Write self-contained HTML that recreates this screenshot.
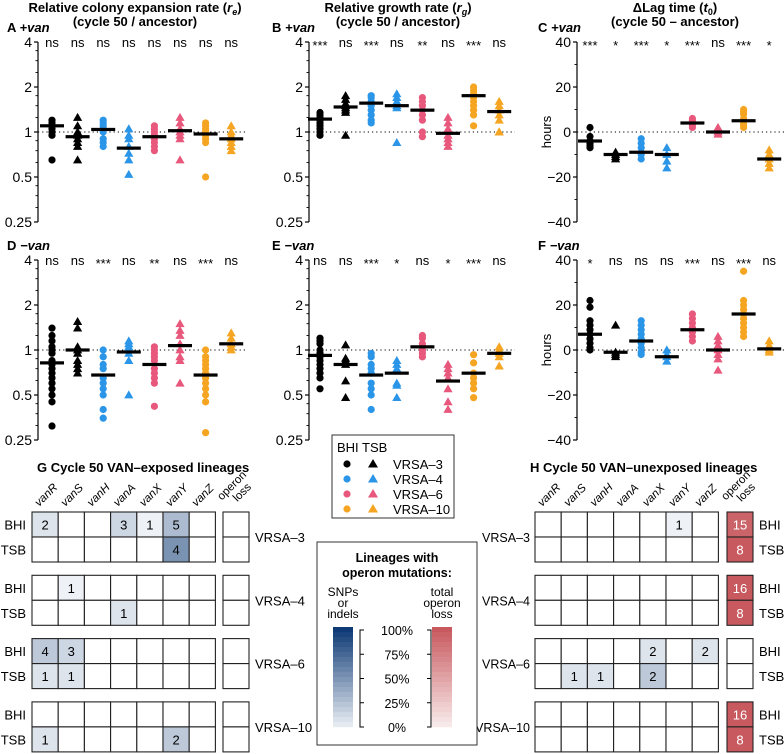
<!DOCTYPE html>
<html><head><meta charset="utf-8">
<style>
html,body{margin:0;padding:0;background:#fff;}
svg{display:block;font-family:"Liberation Sans",sans-serif;}
</style></head>
<body>
<svg id="fig" width="784" height="754" viewBox="0 0 784 754" xmlns="http://www.w3.org/2000/svg"></svg>
<script>
// ---------- data ----------
const groups = ["VRSA-3 BHI","VRSA-3 TSB","VRSA-4 BHI","VRSA-4 TSB","VRSA-6 BHI","VRSA-6 TSB","VRSA-10 BHI","VRSA-10 TSB"];
const aVals = [[1.05,1.1,1.15,1.2,1.0,0.95,0.65],[1.25,1.1,1.0,0.95,0.9,0.85,0.8,0.65],[1.2,1.15,1.1,1.05,1.0,0.9,0.85,0.8],[1.05,0.95,0.9,0.8,0.72,0.65,0.52],[1.1,1.05,1.0,0.95,0.9,0.85,0.8,0.75],[1.25,1.15,1.05,1.0,0.95,0.9,0.65],[1.15,1.1,1.05,1.0,0.95,0.9,0.85,0.5],[1.1,1.0,0.95,0.9,0.85,0.8,0.75]];
const aMed = [1.1,0.93,1.04,0.78,0.93,1.02,0.97,0.9];
const aSig = ["ns","ns","ns","ns","ns","ns","ns","ns"];
const bVals = [[1.35,1.3,1.25,1.2,1.15,1.1,1.05,1.0,0.95],[1.75,1.65,1.55,1.5,1.45,1.4,1.35,0.95],[1.75,1.7,1.6,1.5,1.4,1.3,1.2,1.15],[1.8,1.7,1.6,1.5,1.45,0.85],[1.7,1.6,1.5,1.4,1.3,1.2,1.0,0.93],[1.25,1.15,1.05,0.95,0.9,0.85,0.8],[2.0,1.9,1.8,1.7,1.6,1.5,1.4,1.3,1.1],[1.6,1.5,1.4,1.3,1.2,1.0,1.0]];
const bMed = [1.22,1.47,1.56,1.5,1.4,0.98,1.75,1.37];
const bSig = ["***","ns","***","ns","**","ns","***","ns"];
const cVals = [[2,-2,-4,-5,-6,-7],[-9,-10,-11,-12],[-3,-5,-7,-9,-10,-12],[-7,-10,-13,-16],[6,5,4,3,2],[2,1,0,-1],[10,9,8,6,4,3,2],[-8,-10,-12,-14,-16]];
const cMed = [-4,-10,-9,-10,4,0,5,-12];
const cSig = ["***","*","***","*","***","ns","***","*"];
const dVals = [[1.4,1.25,1.15,1.05,1.0,0.95,0.85,0.8,0.75,0.7,0.65,0.6,0.55,0.5,0.45,0.31],[1.55,1.4,1.05,1.0,0.95,0.85,0.8,0.75,0.7],[1.0,0.9,0.8,0.75,0.65,0.6,0.55,0.5,0.4,0.35],[1.15,1.1,1.05,1.0,0.95,0.85,0.5],[1.05,1.0,0.95,0.9,0.85,0.75,0.7,0.65,0.6,0.42],[1.5,1.35,1.25,1.1,1.0,0.9,0.85,0.6],[1.0,0.9,0.85,0.8,0.75,0.7,0.65,0.6,0.55,0.5,0.45,0.28],[1.3,1.2,1.1,1.05,1.0]];
const dMed = [0.82,1.0,0.68,0.97,0.8,1.07,0.68,1.1];
const dSig = ["ns","ns","***","ns","**","ns","***","ns"];
const eVals = [[1.2,1.15,1.1,1.0,0.95,0.9,0.85,0.8,0.75,0.7,0.65,0.55],[1.08,0.88,0.85,0.8,0.62,0.48],[0.95,0.9,0.8,0.75,0.7,0.6,0.55,0.5,0.4],[0.85,0.8,0.75,0.6,0.58,0.48],[1.25,1.2,1.1,1.05,1.0,0.95,0.9],[0.8,0.75,0.7,0.65,0.55,0.45,0.4],[0.93,0.82,0.7,0.65,0.6,0.55,0.48],[1.05,1.0,0.95,0.9,0.78]];
const eMed = [0.92,0.8,0.68,0.7,1.05,0.62,0.7,0.95];
const eSig = ["ns","ns","***","*","ns","*","***","ns"];
const fVals = [[22,19,13,11,9,7,5,3,1,0],[11,-1,-2,-3],[13,11,9,7,5,3,1,-1,-2],[0,-2,-3,-5],[16,14,12,10,8,6,4],[6,4,2,0,-2,-4,-9],[35,22,20,18,16,14,12,10,8,6],[4,2,1,0,-1]];
const fMed = [7,-1,4,-3,9,0,16,0.5];
const fSig = ["*","ns","ns","ns","***","ns","***","ns"];
const logTicks = [4,2,1,0.5,0.25];
const logTickLabels = ["4","2","1","0.5","0.25"];
const linTicks = [40,20,0,-20,-40];
const linTickLabels = ["40","20","0","\u221220","\u221240"];
const genes = ["vanR","vanS","vanH","vanA","vanX","vanY","vanZ"];
const strains = ["VRSA\u20133","VRSA\u20134","VRSA\u20136","VRSA\u201310"];
// counts: [strain][medium BHI=0,TSB=1][gene]
const gCounts = [[[2,0,0,3,1,5,0],[0,0,0,0,0,4,0]],[[0,1,0,0,0,0,0],[0,0,0,1,0,0,0]],[[4,3,0,0,0,0,0],[1,1,0,0,0,0,0]],[[0,0,0,0,0,0,0],[1,0,0,0,0,2,0]]];
const gLoss = [[0,0],[0,0],[0,0],[0,0]];
const hCounts = [[[0,0,0,0,0,1,0],[0,0,0,0,0,0,0]],[[0,0,0,0,0,0,0],[0,0,0,0,0,0,0]],[[0,0,0,0,2,0,2],[0,1,1,0,2,0,0]],[[0,0,0,0,0,0,0],[0,0,0,0,0,0,0]]];
const hLoss = [[15,8],[16,8],[0,0],[16,8]];
const mediumTotals = [16,8];

// ---------- helpers ----------
const NS="http://www.w3.org/2000/svg";
const svg=document.getElementById('fig');
function el(tag,attrs,parent,text){const e=document.createElementNS(NS,tag);for(const k in attrs)e.setAttribute(k,attrs[k]);if(text!==undefined)e.textContent=text;(parent||svg).appendChild(e);return e;}
const colors=["#000000","#000000","#2b95e8","#2b95e8","#e8577c","#e8577c","#f5a521","#f5a521"];

function panel(opt){
  const g=el('g',{});
  
  
  const ax=opt.ax, top=opt.top, bot=top+180;
  let yScale;
  if(opt.log){yScale=v=>top+(2-Math.log2(v))*45;}
  else{yScale=v=>top+(40-v)*2.25;}
  const axis=el('line',{x1:ax,y1:top,x2:ax,y2:bot,stroke:'#000','stroke-width':1.2},g);
  
  
  const ticks=opt.log?logTicks:linTicks, labs=opt.log?logTickLabels:linTickLabels;
  ticks.forEach((t,i)=>{const y=yScale(t);
    el('line',{x1:ax-4,y1:y,x2:ax,y2:y,stroke:'#000','stroke-width':1.2},g);
    const tl=el('text',{x:ax-6,y:y+5,'text-anchor':'end','font-size':14},g,labs[i]);
    
    
  });
  if(opt.log){[0.25,0.5,1,2].forEach(b=>{[1.25,1.5,1.75].forEach(m=>{const y=yScale(b*m);el('line',{x1:ax-2.5,y1:y,x2:ax,y2:y,stroke:'#000','stroke-width':0.9},g);});});}
  else{[30,10,-10,-30].forEach(t=>{const y=yScale(t);el('line',{x1:ax-2.5,y1:y,x2:ax,y2:y,stroke:'#000','stroke-width':0.9},g);});}
  const ry=yScale(opt.log?1:0);
  const ref=el('line',{x1:ax,y1:ry,x2:opt.refEnd,y2:ry,stroke:'#000','stroke-width':1,'stroke-dasharray':'1.2,3'},g);
  
  
  if(!opt.log){const h=el('text',{x:0,y:0,'text-anchor':'middle','font-size':13,transform:`translate(${ax-26},${ry}) rotate(-90)`},g,'hours');
    }
  const pl=el('text',{x:opt.lx,y:top-10,'font-size':13,'font-weight':'bold'},g);
  
  el('tspan',{},pl,opt.letter+'  ');el('tspan',{'font-style':'italic'},pl,opt.cond);
  groups.forEach((gname,i)=>{
    const x=opt.x0+i*25.6;
    opt.vals[i].forEach(v=>{
      const y=yScale(v);
      let m;
      if(i%2===0){m=el('circle',{cx:x,cy:y,r:3.6,fill:colors[i]},g);}
      else{m=el('path',{d:`M${x},${y-4.6}L${x+4.6},${y+3.4}L${x-4.6},${y+3.4}Z`,fill:colors[i]},g);}
      
      
    });
    const my=yScale(opt.med[i]);
    const mb=el('rect',{x:x-12,y:my-1.6,width:24,height:3.2,fill:'#000'},g);
    
    
    const s=opt.sig[i];
    const st=el('text',{x:x,y:s==='ns'?top+5:top+8,'text-anchor':'middle','font-size':13},g,s);
    
    
  });
}
function title(x,l1,l2,name){
  const t=el('text',{x:x,y:12,'text-anchor':'middle','font-size':13,'font-weight':'bold'});
  
  l1.forEach(p=>{el('tspan',p.a||{},t,p.t);});
  const t2=el('text',{x:x,y:26,'text-anchor':'middle','font-size':13,'font-weight':'bold'},svg,l2);
  
}
title(135,[{t:'Relative colony expansion rate ('},{t:'r',a:{'font-style':'italic'}},{t:'e',a:{'font-style':'italic','font-size':9,dy:3}},{t:')',a:{dy:-3}}],'(cycle 50 / ancestor)','title-expansion');
title(398,[{t:'Relative growth rate ('},{t:'r',a:{'font-style':'italic'}},{t:'g',a:{'font-style':'italic','font-size':9,dy:3}},{t:')',a:{dy:-3}}],'(cycle 50 / ancestor)','title-growth');
title(675,[{t:'\u0394Lag time ('},{t:'t',a:{'font-style':'italic'}},{t:'0',a:{'font-size':9,dy:3}},{t:')',a:{dy:-3}}],'(cycle 50 \u2013 ancestor)','title-lag');

panel({name:'panel-a',letter:'A',cond:'+van',ax:38,top:42,log:true,x0:52,refEnd:246,lx:7,vals:aVals,med:aMed,sig:aSig});
panel({name:'panel-b',letter:'B',cond:'+van',ax:309,top:42,log:true,x0:320,refEnd:515,lx:272,vals:bVals,med:bMed,sig:bSig});
panel({name:'panel-c',letter:'C',cond:'+van',ax:577,top:42,log:false,x0:590,refEnd:784,lx:538,vals:cVals,med:cMed,sig:cSig});
panel({name:'panel-d',letter:'D',cond:'\u2212van',ax:38,top:260,log:true,x0:52,refEnd:246,lx:7,vals:dVals,med:dMed,sig:dSig});
panel({name:'panel-e',letter:'E',cond:'\u2212van',ax:309,top:260,log:true,x0:320,refEnd:515,lx:272,vals:eVals,med:eMed,sig:eSig});
panel({name:'panel-f',letter:'F',cond:'\u2212van',ax:577,top:260,log:false,x0:590,refEnd:784,lx:538,vals:fVals,med:fMed,sig:fSig});

// ---------- heatmaps ----------
function mix(c1,c2,f){return 'rgb('+c1.map((c,i)=>Math.round(c+(c2[i]-c)*f)).join(',')+')';}
const white=[255,255,255], navy=[14,58,117], red=[200,90,95];
function heat(opt){
  const g=el('g',{});
  
  
  const ht=el('text',{x:opt.tx,y:472,'font-size':13,'font-weight':'bold'},g,opt.title);
  
  const cw=26.2, ch=25;
  genes.forEach((gn,j)=>{const x=opt.x0+j*cw+cw/2-6;
    const t=el('text',{x:0,y:0,'font-size':11.5,'font-style':'italic',transform:`translate(${x},${507}) rotate(-45)`},g,gn);
    });
  const ol=el('text',{x:0,y:0,'font-size':11.5,transform:`translate(${opt.ox+3},${505}) rotate(-45)`},g);
  
  el('tspan',{x:0,dy:-6},ol,'operon');el('tspan',{x:10,dy:12},ol,'loss');
  strains.forEach((s,si)=>{
    const top=512+si*63.3;
    [0,1].forEach(m=>{
      const y=top+m*ch;
      genes.forEach((gn,j)=>{
        const n=opt.counts[si][m][j];
        const x=opt.x0+j*cw;
        const r=el('rect',{x:x,y:y,width:cw,height:ch,fill:n?mix(white,navy,Math.min(1,n/mediumTotals[m]*1.1)):'#fff',stroke:'#222','stroke-width':1.1},g);
        
        
        if(n){const t=el('text',{x:x+cw/2,y:y+ch/2+5,'text-anchor':'middle','font-size':13},g,String(n));
          }
      });
      const L=opt.loss[si][m];
      const r=el('rect',{x:opt.ox,y:y,width:26,height:ch,fill:L?mix(white,red,L/mediumTotals[m]):'#fff',stroke:'#222','stroke-width':1.1},g);
      
      
      if(L){const t=el('text',{x:opt.ox+13,y:y+ch/2+5,'text-anchor':'middle','font-size':13,fill:'#fff'},g,String(L));
        }
      const ml=el('text',{x:opt.mx,y:y+ch/2+5,'text-anchor':opt.manchor,'font-size':13},g,m?'TSB':'BHI');
      
    });
    const sl=el('text',{x:opt.sx,y:top+ch+5,'text-anchor':opt.sanchor,'font-size':opt.sfs},g,s);
    
  });
}
heat({name:'heatmap-g',title:'G    Cycle 50 VAN\u2013exposed lineages',tx:37,x0:32,ox:223,counts:gCounts,loss:gLoss,mx:26,manchor:'end',sx:255,sanchor:'start',sfs:13});
heat({name:'heatmap-h',title:'H    Cycle 50 VAN\u2013unexposed lineages',tx:530,x0:535,ox:727,counts:hCounts,loss:hLoss,mx:759,manchor:'start',sx:530,sanchor:'end',sfs:12.5});

// ---------- legends ----------
(function(){
  const g=el('g',{});
  
  
  el('rect',{x:332,y:435,width:122,height:83,fill:'#fff',stroke:'#333','stroke-width':1},g);
  el('text',{x:337,y:452,'font-size':13},g,'BHI');
  el('text',{x:362,y:452,'font-size':13},g,'TSB');
  const lab=["VRSA\u20133","VRSA\u20134","VRSA\u20136","VRSA\u201310"];
  const cl=["#000000","#2b95e8","#e8577c","#f5a521"];
  lab.forEach((l,i)=>{const y=464+i*15;
    const c=el('circle',{cx:347,cy:y,r:3.6,fill:cl[i]},g);
    
    el('path',{d:`M373,${y-5}L378,${y+3.5}L368,${y+3.5}Z`,fill:cl[i]},g);
    el('text',{x:393,y:y+5,'font-size':13},g,l);
  });
})();
(function(){
  const g=el('g',{});
  
  
  el('rect',{x:317,y:542,width:160,height:203,fill:'#fff',stroke:'#333','stroke-width':1},g);
  el('text',{x:397,y:562,'text-anchor':'middle','font-size':12.5,'font-weight':'bold'},g,'Lineages with');
  el('text',{x:397,y:577,'text-anchor':'middle','font-size':12.5,'font-weight':'bold'},g,'operon mutations:');
  ['SNPs','or','indels'].forEach((t,i)=>el('text',{x:343,y:596+i*11,'text-anchor':'middle','font-size':12},g,t));
  ['total','operon','loss'].forEach((t,i)=>el('text',{x:442,y:596+i*11,'text-anchor':'middle','font-size':12},g,t));
  for(let k=0;k<20;k++){const f=(20-k)/20;
    el('rect',{x:333,y:627+k*5,width:20,height:5.2,fill:mix([240,243,247],navy,f)},g);
    el('rect',{x:432,y:627+k*5,width:20,height:5.2,fill:mix([250,240,240],red,f)},g);}
  el('path',{d:'M364,630H360V727H364',fill:'none',stroke:'#000'},g);
  el('path',{d:'M427,630H431V727H427',fill:'none',stroke:'#000'},g);
  ['100%','75%','50%','25%','0%'].forEach((t,i)=>{const y=630+i*24.25;
    el('line',{x1:360,y1:y,x2:364,y2:y,stroke:'#000'},g);
    el('line',{x1:427,y1:y,x2:431,y2:y,stroke:'#000'},g);
    el('text',{x:397,y:y+5,'text-anchor':'middle','font-size':12.5},g,t);});
})();
</script>
</body></html>
